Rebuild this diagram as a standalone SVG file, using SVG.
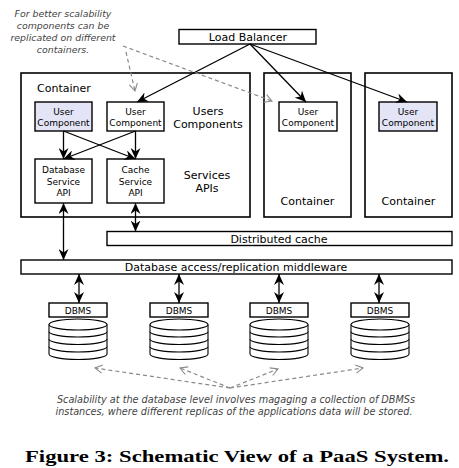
<svg xmlns="http://www.w3.org/2000/svg" xmlns:xlink="http://www.w3.org/1999/xlink" width="459" height="468" viewBox="0 0 459 468">
<style>
.box{fill:#fff;stroke:#000;stroke-width:1.4}
.uc{fill:#e4e4f7;stroke:#000;stroke-width:1.4}
.cont{fill:#fff;stroke:#000;stroke-width:1.6}
.t11{font-family:"DejaVu Sans",sans-serif;font-size:11px;fill:#000;text-anchor:middle}
.t9{font-family:"DejaVu Sans",sans-serif;font-size:9px;fill:#000;text-anchor:middle}
.note{font-family:"DejaVu Sans",sans-serif;font-size:9.4px;font-style:italic;fill:#444;text-anchor:middle}
.noteb{font-family:"DejaVu Sans",sans-serif;font-size:9.7px;font-style:italic;fill:#444;text-anchor:middle}
.cap{font-family:"Liberation Serif",serif;font-size:17px;font-weight:bold;fill:#000}
.ln{stroke:#000;stroke-width:1.3;fill:none}
.dl{stroke:#8a8a8a;stroke-width:1.2;stroke-dasharray:4 3;fill:none}
.cyl{fill:#fff;stroke:#000;stroke-width:1.1}
</style>
<defs>
<marker id="ah" markerUnits="userSpaceOnUse" markerWidth="12" markerHeight="10" refX="11" refY="5" orient="auto-start-reverse" viewBox="0 0 12 10">
<path d="M0,0 L11,5 L0,10 L3.5,5 z" fill="#000"/>
</marker>
<marker id="oh" markerUnits="userSpaceOnUse" markerWidth="10" markerHeight="10" refX="8" refY="4.5" orient="auto" viewBox="-1 -1 10 11">
<path d="M0,0 L8,4.5 L0,9" fill="none" stroke="#8a8a8a" stroke-width="1.2"/>
</marker>
<g id="cylshape">
<path class="cyl" d="M0,324.5 V354 A29,5.5 0 0 0 58,354 V324.5"/>
<path class="cyl" d="M0,331.5 A29,5.5 0 0 0 58,331.5 M0,339 A29,5.5 0 0 0 58,339 M0,346.5 A29,5.5 0 0 0 58,346.5"/>
<ellipse class="cyl" cx="29" cy="324.5" rx="29" ry="5.5"/>
</g>
</defs>
<rect width="459" height="468" fill="#fff"/>

<g id="note-top">
<text class="note" x="63" y="17">For better scalability</text>
<text class="note" x="63" y="29">components can be</text>
<text class="note" x="63" y="41">replicated on different</text>
<text class="note" x="63" y="53">containers.</text>
</g>

<g id="load-balancer">
<rect class="box" x="179" y="29.5" width="137" height="14.5"/>
<text class="t11" x="248" y="41">Load Balancer</text>
</g>

<g id="container1">
<rect class="cont" x="21" y="73" width="229" height="144"/>
<text class="t11" x="64" y="92">Container</text>
<text class="t11" x="208" y="115">Users</text>
<text class="t11" x="208" y="128">Components</text>
<text class="t11" x="207" y="179">Services</text>
<text class="t11" x="207" y="192">APIs</text>
</g>
<g id="uc1">
<rect class="uc" x="35" y="102" width="57" height="29"/>
<text class="t9" x="63.5" y="115">User</text>
<text class="t9" x="63.5" y="126">Component</text>
</g>
<g id="uc2">
<rect class="box" x="107" y="102" width="57" height="29"/>
<text class="t9" x="135.5" y="115">User</text>
<text class="t9" x="135.5" y="126">Component</text>
</g>
<g id="db-api">
<rect class="box" x="35" y="159" width="57" height="44"/>
<text class="t9" x="63.5" y="173">Database</text>
<text class="t9" x="63.5" y="184.5">Service</text>
<text class="t9" x="63.5" y="196">API</text>
</g>
<g id="cache-api">
<rect class="box" x="107" y="159" width="57" height="44"/>
<text class="t9" x="135.5" y="173">Cache</text>
<text class="t9" x="135.5" y="184.5">Service</text>
<text class="t9" x="135.5" y="196">API</text>
</g>

<g id="container2">
<rect class="cont" x="264" y="73" width="87" height="144"/>
<text class="t11" x="307.5" y="205">Container</text>
</g>
<g id="uc3">
<rect class="box" x="279" y="102" width="58" height="29"/>
<text class="t9" x="308" y="115">User</text>
<text class="t9" x="308" y="126">Component</text>
</g>
<g id="container3">
<rect class="cont" x="365" y="73" width="87" height="144"/>
<text class="t11" x="408.5" y="205">Container</text>
</g>
<g id="uc4">
<rect class="uc" x="379" y="102" width="58" height="29"/>
<text class="t9" x="408" y="115">User</text>
<text class="t9" x="408" y="126">Component</text>
</g>

<g id="distributed-cache">
<rect class="box" x="107" y="231.5" width="345" height="14"/>
<text class="t11" x="279" y="243">Distributed cache</text>
</g>
<g id="middleware">
<rect class="box" x="21" y="260" width="431" height="14"/>
<text class="t11" x="236" y="271">Database access/replication middleware</text>
</g>

<g id="dbms1">
<rect class="box" x="49" y="303" width="58" height="14"/>
<text class="t9" x="78" y="313.5">DBMS</text>
<use xlink:href="#cylshape" href="#cylshape" x="49"/>
</g>
<g id="dbms2">
<rect class="box" x="150" y="303" width="58" height="14"/>
<text class="t9" x="179" y="313.5">DBMS</text>
<use xlink:href="#cylshape" href="#cylshape" x="150"/>
</g>
<g id="dbms3">
<rect class="box" x="250" y="303" width="58" height="14"/>
<text class="t9" x="279" y="313.5">DBMS</text>
<use xlink:href="#cylshape" href="#cylshape" x="250"/>
</g>
<g id="dbms4">
<rect class="box" x="351" y="303" width="58" height="14"/>
<text class="t9" x="380" y="313.5">DBMS</text>
<use xlink:href="#cylshape" href="#cylshape" x="351"/>
</g>

<g id="connectors">
<line class="ln" x1="250" y1="44" x2="137" y2="102" marker-end="url(#ah)"/>
<line class="ln" x1="250" y1="44" x2="306" y2="102" marker-end="url(#ah)"/>
<line class="ln" x1="250" y1="44" x2="407" y2="102" marker-end="url(#ah)"/>
<line class="ln" x1="63.5" y1="131" x2="63.5" y2="159" marker-end="url(#ah)"/>
<line class="ln" x1="63.5" y1="131" x2="135.5" y2="159" marker-end="url(#ah)"/>
<line class="ln" x1="135.5" y1="131" x2="63.5" y2="159" marker-end="url(#ah)"/>
<line class="ln" x1="135.5" y1="131" x2="135.5" y2="159" marker-end="url(#ah)"/>
<line class="ln" x1="63.5" y1="203" x2="63.5" y2="260" marker-start="url(#ah)" marker-end="url(#ah)"/>
<line class="ln" x1="135.5" y1="203" x2="135.5" y2="231.5" marker-start="url(#ah)" marker-end="url(#ah)"/>
<line class="ln" x1="79" y1="274" x2="79" y2="303" marker-start="url(#ah)" marker-end="url(#ah)"/>
<line class="ln" x1="179" y1="274" x2="179" y2="303" marker-start="url(#ah)" marker-end="url(#ah)"/>
<line class="ln" x1="279" y1="274" x2="279" y2="303" marker-start="url(#ah)" marker-end="url(#ah)"/>
<line class="ln" x1="379" y1="274" x2="379" y2="303" marker-start="url(#ah)" marker-end="url(#ah)"/>
<line class="dl" x1="123" y1="46" x2="272" y2="101" marker-end="url(#oh)"/>
<line class="dl" x1="126" y1="52" x2="135" y2="91" marker-end="url(#oh)"/>
<line class="dl" x1="230" y1="388" x2="95" y2="368" marker-end="url(#oh)"/>
<line class="dl" x1="230" y1="388" x2="180" y2="368" marker-end="url(#oh)"/>
<line class="dl" x1="230" y1="388" x2="278" y2="369" marker-end="url(#oh)"/>
<line class="dl" x1="230" y1="388" x2="363" y2="368" marker-end="url(#oh)"/>
</g>

<g id="note-bottom">
<text class="noteb" x="236" y="403">Scalability at the database level involves magaging a collection of DBMSs</text>
<text class="noteb" x="234" y="415">instances, where different replicas of the applications data will be stored.</text>
</g>

<text class="cap" x="25" y="462" textLength="424" lengthAdjust="spacingAndGlyphs">Figure 3: Schematic View of a PaaS System.</text>
</svg>
